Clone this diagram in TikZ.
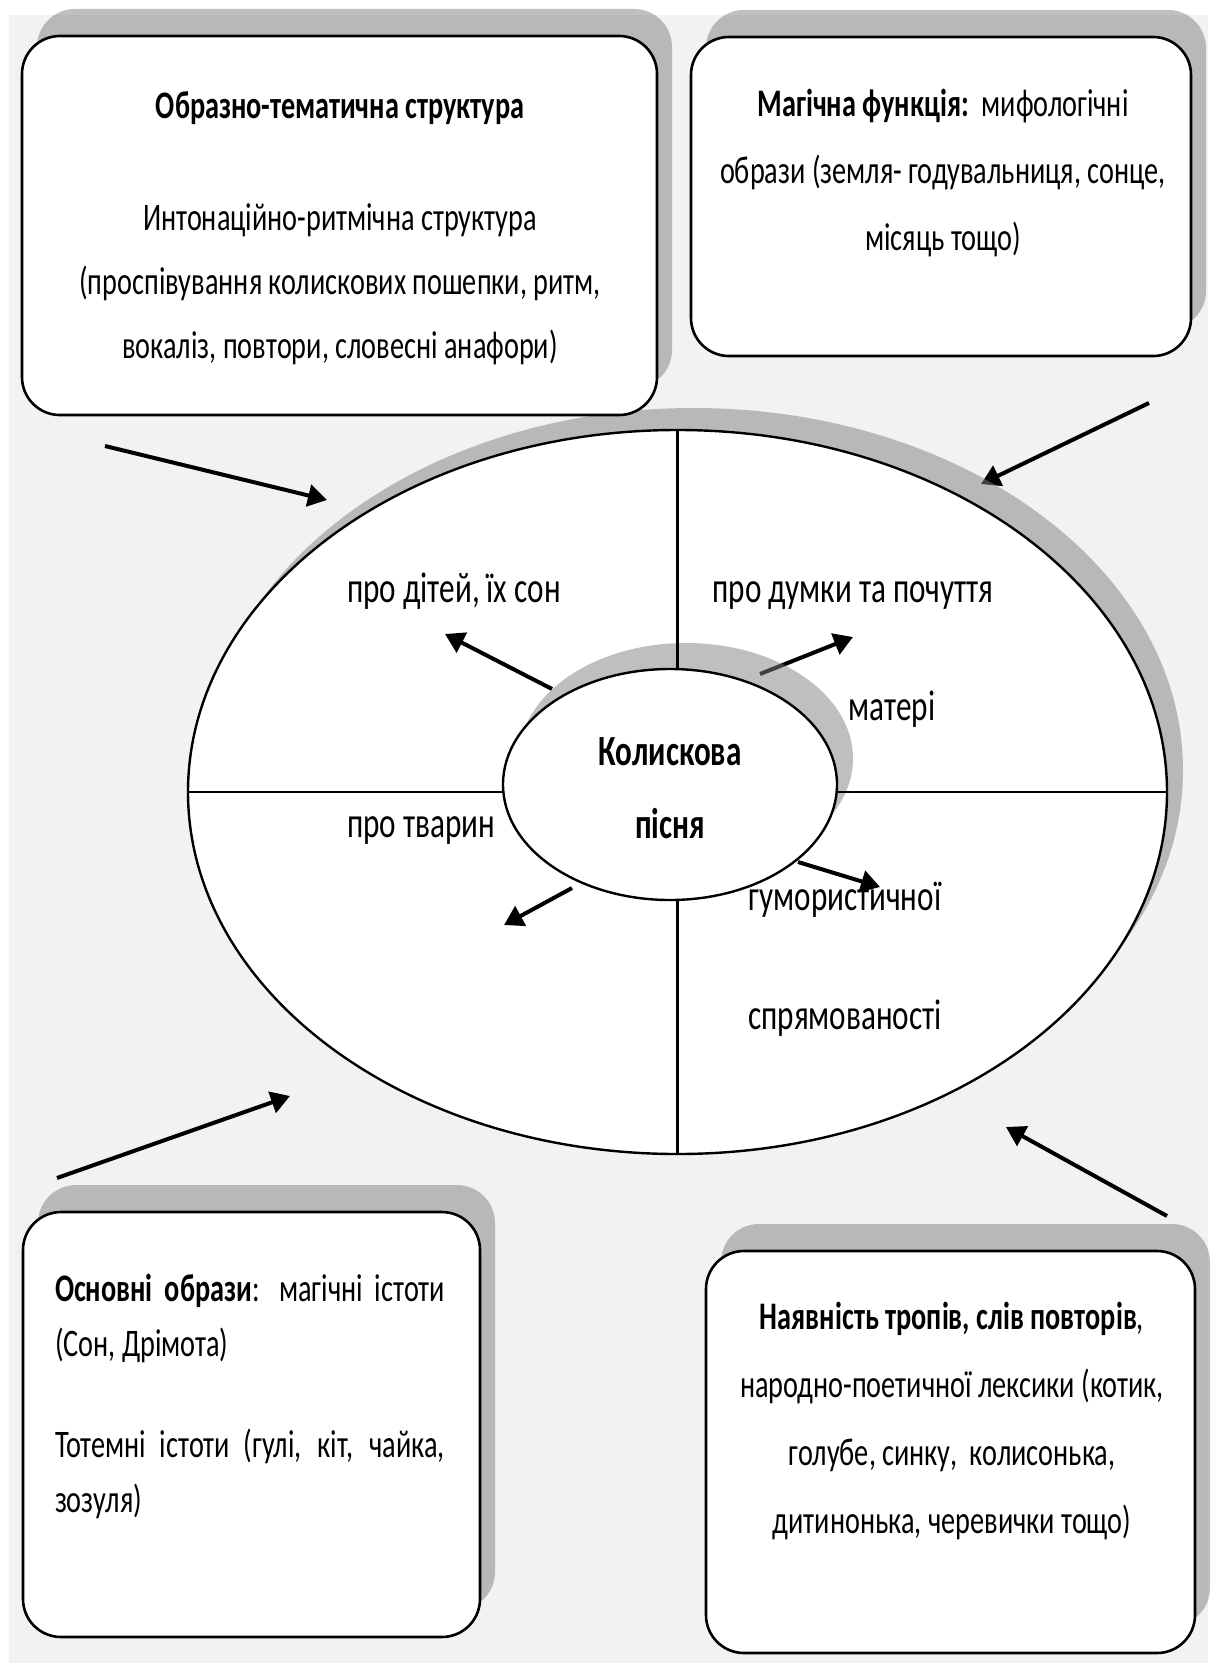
\documentclass[tikz,border=0pt]{standalone}
\usepackage{fontspec}
\setmainfont{Carlito}[FakeStretch=0.725]
\usetikzlibrary{shapes.geometric,shadows,arrows.meta}
\definecolor{pagegray}{HTML}{F2F2F2}

\begin{document}
\begin{tikzpicture}[x=1pt,y=-1pt,
        card/.style={draw,line width=2.6pt,fill=white,rounded corners=38pt,inner sep=0pt,transform shape,
            drop shadow={shadow xshift=15pt,shadow yshift=27pt}},
        oval/.style={ellipse,draw,line width=2.4pt,fill=white,inner sep=0pt},
        boxtext/.style={inner sep=0pt,anchor=base,font=\fontsize{39}{64}\selectfont},
        ovaltext/.style={inner sep=0pt,anchor=base,font=\fontsize{43}{70}\selectfont},
        pointer/.style={line width=4pt,-{Triangle[length=19pt,width=22pt]}}]
    \useasboundingbox (0,0) rectangle (1215,1671);
    \fill[pagegray] (9,15) rectangle (1208,1663);

    \coordinate (TLa) at (105,446);   \coordinate (TLb) at (327,500);
    \coordinate (TRa) at (1149,403);  \coordinate (TRb) at (981,484);
    \coordinate (BLa) at (57,1178);   \coordinate (BLb) at (290,1096);
    \coordinate (BRa) at (1167,1216); \coordinate (BRb) at (1006,1127);
    \draw[pointer] (TLa) -- (TLb);
    \draw[pointer] (TRa) -- (TRb);
    \draw[pointer] (BLa) -- (BLb);
    \draw[pointer] (BRa) -- (BRb);

    \node[oval,minimum width=979pt,minimum height=724pt,
        drop shadow={shadow xshift=16pt,shadow yshift=22pt}] (RING) at (677.5,792) {};

    \coordinate (Q1a) at (552,689); \coordinate (Q1b) at (445,634);
    \coordinate (Q2a) at (760,674); \coordinate (Q2b) at (853,637);
    \coordinate (Q3a) at (798,862); \coordinate (Q3b) at (880,887);
    \coordinate (Q4a) at (572,888); \coordinate (Q4b) at (504,925);
    \draw[pointer] (Q1a) -- (Q1b);
    \draw[pointer] (Q2a) -- (Q2b);
    \draw[pointer] (Q3a) -- (Q3b);
    \draw[pointer] (Q4a) -- (Q4b);

    \node[oval,minimum width=334pt,minimum height=231pt,
        drop shadow={shadow xshift=16pt,shadow yshift=26pt}] (SONG) at (670,784.5) {};
    \node[ovaltext,align=center,font=\fontsize{43}{73}\selectfont\bfseries] (SONGt) at (670,838) {Колискова\\пісня};

    \draw[line width=2.4pt] (RING.north) -- (RING.north |- SONG.north);
    \draw[line width=2.4pt] (RING.south) -- (RING.south |- SONG.south);
    \draw[line width=2.4pt] (RING.west) -- (SONG.west |- RING.west);
    \draw[line width=2.4pt] (RING.east) -- (SONG.east |- RING.east);

    \node[ovaltext] (KIDS) at (454,602) {про дітей, їх сон};
    \node[ovaltext] (MIND) at (853,602) {про думки та почуття};
    \node[ovaltext] (MOM) at (892,720) {матері};
    \node[ovaltext] (BEAST) at (421,837) {про тварин};
    \node[ovaltext] (FUN) at (845,910) {гумористичної};
    \node[ovaltext] (FUN2) at (845,1029) {спрямованості};

    \begin{scope}[shift={(339.5,225.5)},yscale=1.5]
        \node[card,minimum width=635pt,minimum height=252.7pt] (TL) at (0,0) {};
    \end{scope}
    \begin{scope}[shift={(941,196.5)},yscale=1.5]
        \node[card,minimum width=500pt,minimum height=212.7pt] (TR) at (0,0) {};
    \end{scope}
    \begin{scope}[shift={(251.5,1424.5)},yscale=1.5]
        \node[card,minimum width=457pt,minimum height=283.3pt] (BL) at (0,0) {};
    \end{scope}
    \begin{scope}[shift={(950.5,1452)},yscale=1.5]
        \node[card,minimum width=489pt,minimum height=268pt] (BR) at (0,0) {};
    \end{scope}

    \node[boxtext,font=\fontsize{39}{64}\selectfont\bfseries] (TLhead) at (340,118) {Образно-тематична структура};
    \node[boxtext,align=center] (TLbody) at (340,358) {Интонаційно-ритмічна структура\\(проспівування колискових пошепки, ритм,\\вокаліз, повтори, словесні анафори)};
    \node[boxtext,align=center,font=\fontsize{39}{67}\selectfont] (TRbody) at (943,250) {\textbf{Магічна функція:}\ \ мифологічні\\образи (земля- годувальниця, сонце,\\місяць тощо)};
    \node[boxtext,align=left,font=\fontsize{39}{55}\selectfont] (BLbody) at (250,1512)
        {\makebox[390pt][s]{\textbf{Основні образи}: магічні істоти}\\(Сон, Дрімота)\\[46pt]\makebox[390pt][s]{Тотемні істоти (гулі, кіт, чайка,}\\зозуля)};
    \node[boxtext,align=center,font=\fontsize{39}{68}\selectfont] (BRbody) at (952,1533) {\textbf{Наявність тропів, слів повторів},\\народно-поетичної лексики (котик,\\голубе, синку,\ \ колисонька,\\дитинонька, черевички тощо)};
\end{tikzpicture}
\end{document}
